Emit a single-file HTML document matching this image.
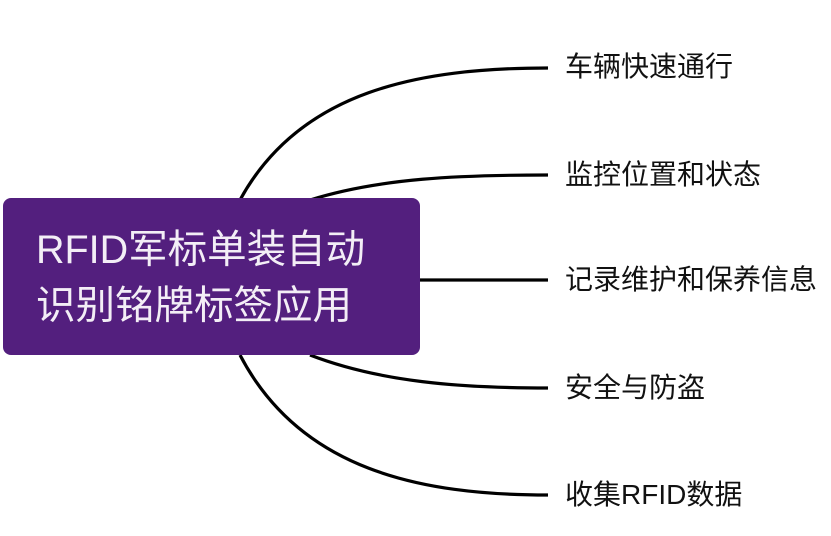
<!DOCTYPE html>
<html><head><meta charset="utf-8"><style>
body{margin:0;width:831px;height:536px;background:#fff;overflow:hidden;position:relative;font-family:"Liberation Sans","Noto Sans CJK SC",sans-serif}
.box{position:absolute;left:3px;top:198px;width:417px;height:157px;background:#531f7e;border-radius:8px;color:#f3eef6;font-size:39.5px;line-height:56px;box-sizing:border-box;padding:24px 0 0 33px;white-space:nowrap}
.l{position:absolute;left:565px;font-size:28px;line-height:32px;color:#111;white-space:nowrap}
</style></head><body>
<svg width="831" height="536" style="position:absolute;left:0;top:0">
<g fill="none" stroke="#000" stroke-width="3.2">
<path d="M240 200 C300 90 420 68 548 68"/>
<path d="M310 200 C380 178 460 175 548 175"/>
<path d="M420 280 L548 280"/>
<path d="M310 355 C380 382 460 388 548 388"/>
<path d="M240 355 C300 470 420 495 548 495"/>
</g>
</svg>
<div class="box">RFID军标单装自动<br>识别铭牌标签应用</div>
<div class="l" style="top:51px">车辆快速通行</div>
<div class="l" style="top:159px">监控位置和状态</div>
<div class="l" style="top:264px">记录维护和保养信息</div>
<div class="l" style="top:372px">安全与防盗</div>
<div class="l" style="top:479px">收集RFID数据</div>
</body></html>
